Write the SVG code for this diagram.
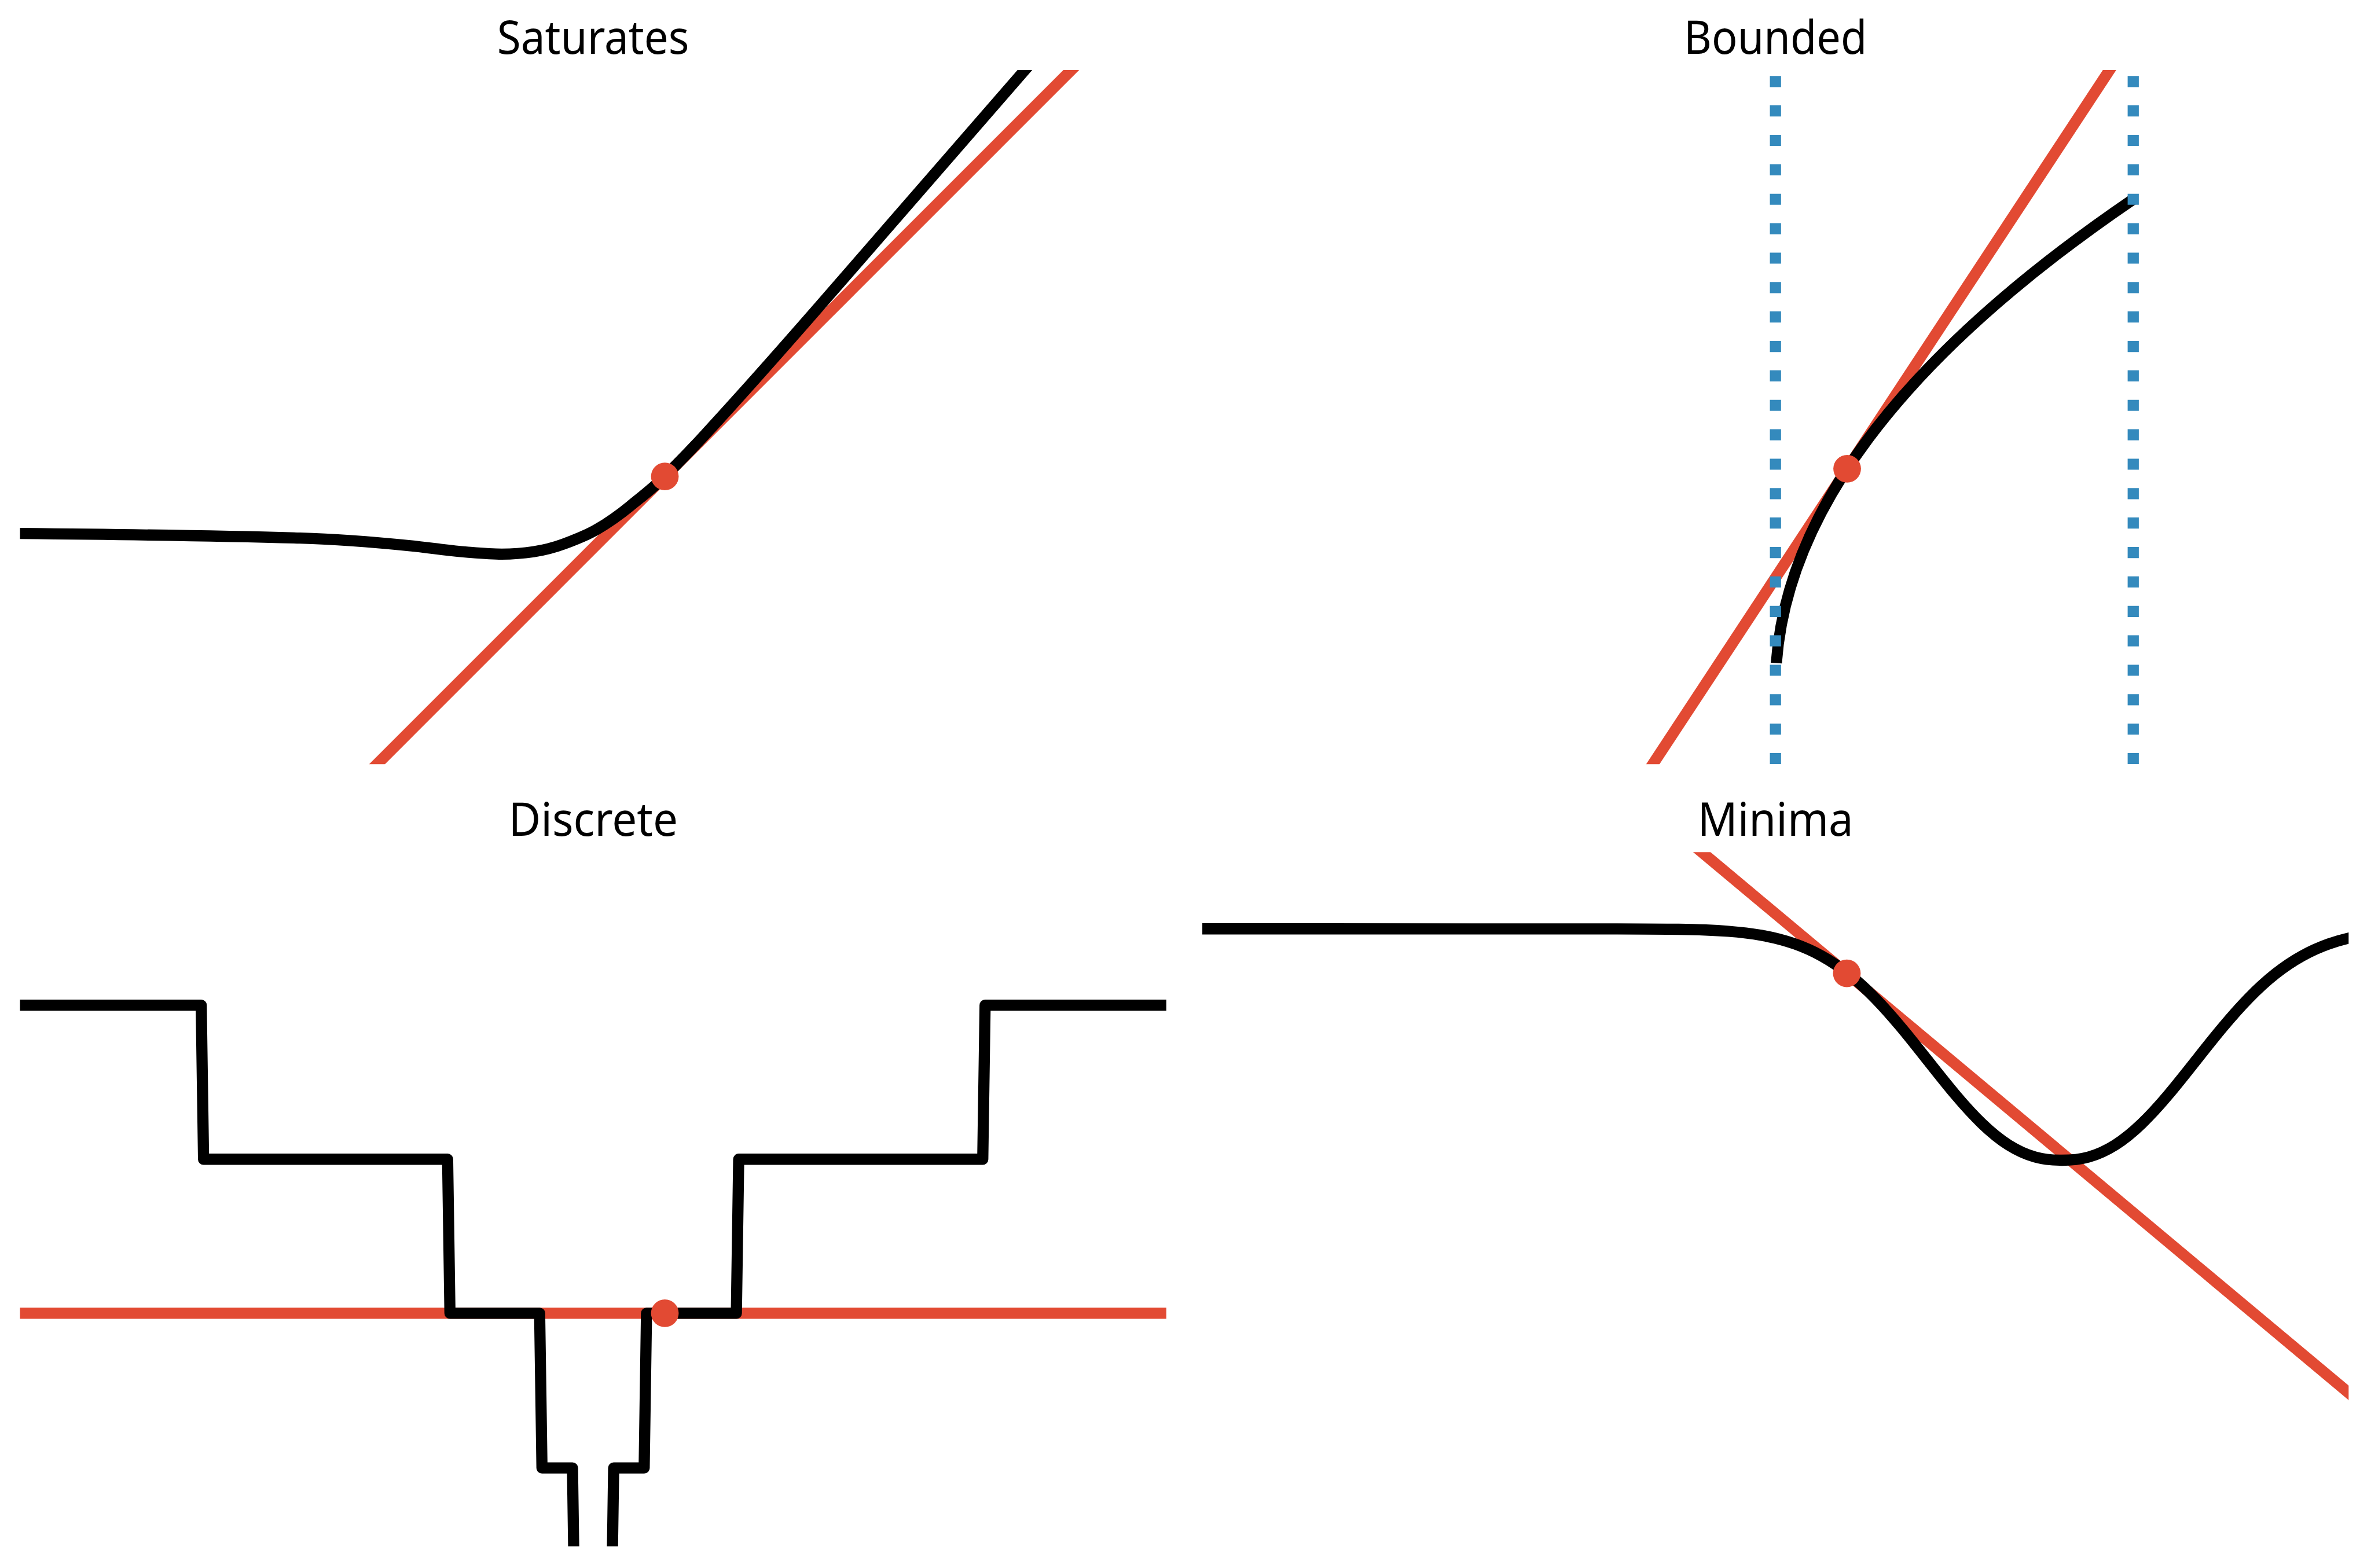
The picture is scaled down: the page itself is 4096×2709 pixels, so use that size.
<svg xmlns="http://www.w3.org/2000/svg" width="4096" height="2709" viewBox="0 0 4096 2709">
<style>
.title{font-family:"Noto Sans","Open Sans",sans-serif;font-size:140px;fill:#000;text-anchor:middle}
.curve{fill:none;stroke:#000;stroke-width:33.5;stroke-linejoin:round;stroke-linecap:butt}
.tan{fill:none;stroke:#E24A33;stroke-width:33.5;stroke-linecap:butt}
.bound{fill:none;stroke:#348ABD;stroke-width:33.5;stroke-dasharray:33.3 55;stroke-linecap:butt}
.dot{fill:#E24A33}
</style>
<defs>
<clipPath id="cTL"><rect x="60" y="210" width="3438" height="2082"/></clipPath>
<clipPath id="cTR"><rect x="3606" y="210" width="3438" height="2082"/></clipPath>
<clipPath id="cBL"><rect x="60" y="2556" width="3438" height="2082"/></clipPath>
<clipPath id="cBR"><rect x="3606" y="2556" width="3438" height="2082"/></clipPath>
</defs>
<rect width="4096" height="2709" fill="#fff"/>
<g transform="scale(0.576)">
<g id="saturates">
<text class="title" x="1779" y="161" textLength="576" lengthAdjust="spacingAndGlyphs">Saturates</text>
<g clip-path="url(#cTL)">
<line class="tan" x1="1000" y1="2423" x2="3350" y2="73"/>
<path class="curve" d="M 30 1599.6 L 60 1600 C 340 1602.8 620 1605.6 900 1614 C 1010 1617.3 1120 1626 1230 1637 C 1286.7 1642.7 1343.3 1651.5 1400 1656 C 1435 1658.8 1470 1662 1505 1662 C 1536.7 1662 1568.3 1659.75 1600 1655 C 1630 1650.5 1660 1643.1 1690 1632 C 1723.3 1619.7 1756.7 1607.3 1790 1588 C 1823.3 1568.7 1856.7 1545.3 1890 1518 C 1924.7 1489.6 1959.3 1463.7 1994 1429 C 2030.7 1392.3 2067.3 1354.6 2104 1315 C 2236 1172.4 2368 1021.8 2500 870 L 3130 145.5"/>
</g>
<circle class="dot" cx="1994" cy="1429" r="41.5"/>
</g>
<g id="bounded">
<text class="title" x="5325" y="161" textLength="549" lengthAdjust="spacingAndGlyphs">Bounded</text>
<g clip-path="url(#cTR)">
<line class="tan" x1="4900" y1="2379" x2="6450" y2="23"/>
<path class="curve" d="M 5327.6 1989 Q 5377.7 1293.2 6398 597.5"/>
<line class="bound" x1="5325" y1="2292" x2="5325" y2="150"/>
<line class="bound" x1="6398" y1="2292" x2="6398" y2="150"/>
</g>
<circle class="dot" cx="5540" cy="1406" r="41.5"/>
</g>
<g id="discrete">
<text class="title" x="1779" y="2507" textLength="508" lengthAdjust="spacingAndGlyphs">Discrete</text>
<g clip-path="url(#cBL)">
<line class="tan" x1="30" y1="3939" x2="3530" y2="3939"/>
<path class="curve" d="M 30 3015 H 603.5 L 610.5 3477 H 1342.5 L 1349.5 3939 H 1618.5 L 1625.5 4403 H 1717 L 1724 4871"/>
<path class="curve" d="M 1833.5 4871 L 1840.5 4403 H 1932 L 1939 3939 H 2208.5 L 2215.5 3477 H 2947.5 L 2954.5 3015 H 3530"/>
</g>
<circle class="dot" cx="1994" cy="3939" r="41.5"/>
</g>
<g id="minima">
<text class="title" x="5325" y="2507" textLength="467" lengthAdjust="spacingAndGlyphs">Minima</text>
<g clip-path="url(#cBR)">
<line class="tan" x1="5050" y1="2510.7" x2="7100" y2="4224.5"/>
<path class="curve" d="M 3580 2786 L 4834 2786.1 C 4900.7 2786.2 4967.3 2786.2 5034 2787.3 C 5084 2788.1 5134 2789.6 5184 2793.4 C 5217.3 2796 5250.7 2799.7 5284 2805.6 C 5317.3 2811.5 5350.7 2819.7 5384 2831.5 C 5410.7 2841 5437.3 2852.8 5464 2867.6 C 5490.7 2882.4 5517.3 2900.2 5544 2921.3 C 5570.7 2942.4 5597.3 2966.9 5624 2994.2 C 5650.7 3021.5 5677.3 3051.9 5704 3083.9 C 5730.7 3116 5757.3 3149.8 5784 3183.6 C 5810.7 3217.4 5837.3 3251.1 5864 3282.8 C 5890.7 3314.5 5917.3 3344 5944 3369.7 C 5970.7 3395.4 5997.3 3417.3 6024 3434.2 C 6050.7 3451.1 6077.3 3463.1 6104 3470.4 C 6130.7 3477.7 6157.3 3480 6184 3480 C 6210.7 3480 6237.3 3477.7 6264 3470.4 C 6290.7 3463.1 6317.3 3451.1 6344 3434.2 C 6370.7 3417.3 6397.3 3395.4 6424 3369.7 C 6450.7 3344 6477.3 3314.5 6504 3282.8 C 6530.7 3251.1 6557.3 3217.4 6584 3183.6 C 6610.7 3149.8 6637.3 3116 6664 3083.9 C 6690.7 3051.9 6717.3 3021.5 6744 2994.2 C 6770.7 2966.9 6797.3 2942.4 6824 2921.3 C 6850.7 2900.2 6877.3 2882.4 6904 2867.6 C 6930.7 2852.8 6957.3 2841 6984 2831.5 C 7017.3 2819.7 7050.7 2811.5 7084 2805.6"/>
</g>
<circle class="dot" cx="5539" cy="2919.5" r="41.5"/>
</g>
</g>
</svg>
